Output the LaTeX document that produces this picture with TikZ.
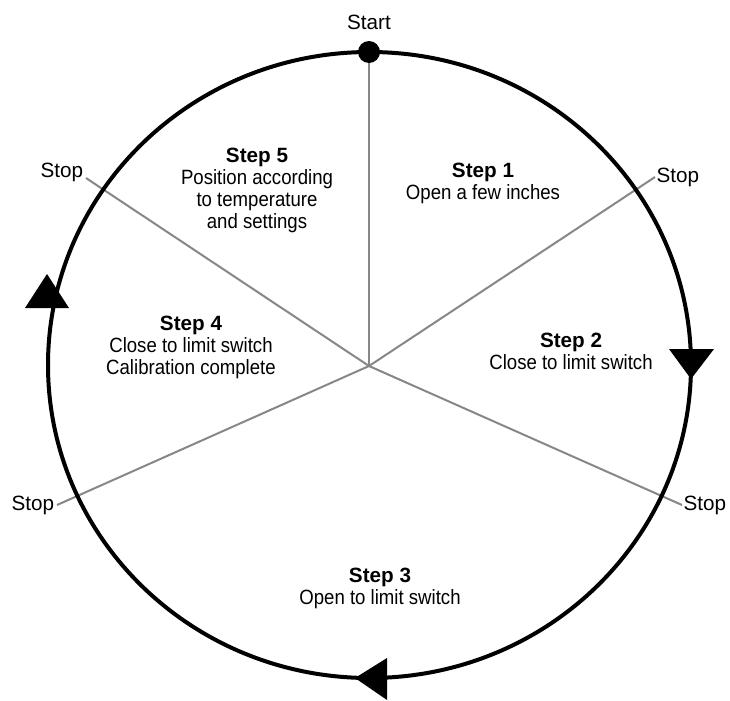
\documentclass[tikz,border=0pt]{standalone}
\usepackage{fontspec}
\setmainfont{Liberation Sans}
\newfontfamily\narrowfont[FakeStretch=0.9]{Liberation Sans}
\newcommand{\stephead}[1]{{\normalfont\bfseries #1}}
\usetikzlibrary{positioning,calc}

\tikzset{
  ring/.style={line width=3pt},
  spoke/.style={draw=black!47,line width=1.5pt},
  tip/.style={fill=black},
  endlbl/.style={font=\fontsize{15.5}{17}\selectfont,inner sep=0pt},
  steptxt/.style={font=\narrowfont\fontsize{15.5}{16.5}\selectfont,align=center,inner sep=0pt}
}

\begin{document}
\begin{tikzpicture}[x=0.75pt,y=-0.75pt]
\useasboundingbox (0,0) rectangle (730,700);
\coordinate (hub) at (369,366);
% spoke ends
\coordinate (startpt) at (369,52);
\coordinate (stopUR) at (655,177);
\coordinate (stopLR) at (682,505);
\coordinate (stopLL) at (57,505);
\coordinate (stopUL) at (86,178);
\foreach \e in {startpt,stopUR,stopLR,stopLL,stopUL}
  \draw[spoke] (hub) -- (\e);
\draw[ring] (369.5,365) ellipse [x radius=321.5, y radius=313];
\fill (startpt) circle [radius=11];
% direction marks on the ring
\fill[tip] (669,349) -- (714,349) -- (691,379) -- cycle;
\fill[tip] (387,658) -- (387,700) -- (355,678) -- cycle;
\fill[tip] (25,308) -- (69,308) -- (47,274) -- cycle;
% labels
\node[endlbl] (startlbl) at (369,22) {Start};
\node[endlbl,right=1pt of stopUR] (stopURlbl) {Stop};
\node[endlbl,right=1pt of stopLR] (stopLRlbl) {Stop};
\node[endlbl,left=2pt of stopLL] (stopLLlbl) {Stop};
\node[endlbl,left=2pt of stopUL,yshift=4pt] (stopULlbl) {Stop};
\node[steptxt] (step1) at (483,183) {\stephead{Step 1}\\Open a few inches};
\node[steptxt] (step2) at (571,351) {\stephead{Step 2}\\Close to limit switch};
\node[steptxt] (step3) at (380,588) {\stephead{Step 3}\\Open to limit switch};
\node[steptxt] (step4) at (191,347) {\stephead{Step 4}\\Close to limit switch\\Calibration complete};
\node[steptxt] (step5) at (257,190) {\stephead{Step 5}\\Position according\\to temperature\\and settings};
\end{tikzpicture}
\end{document}
